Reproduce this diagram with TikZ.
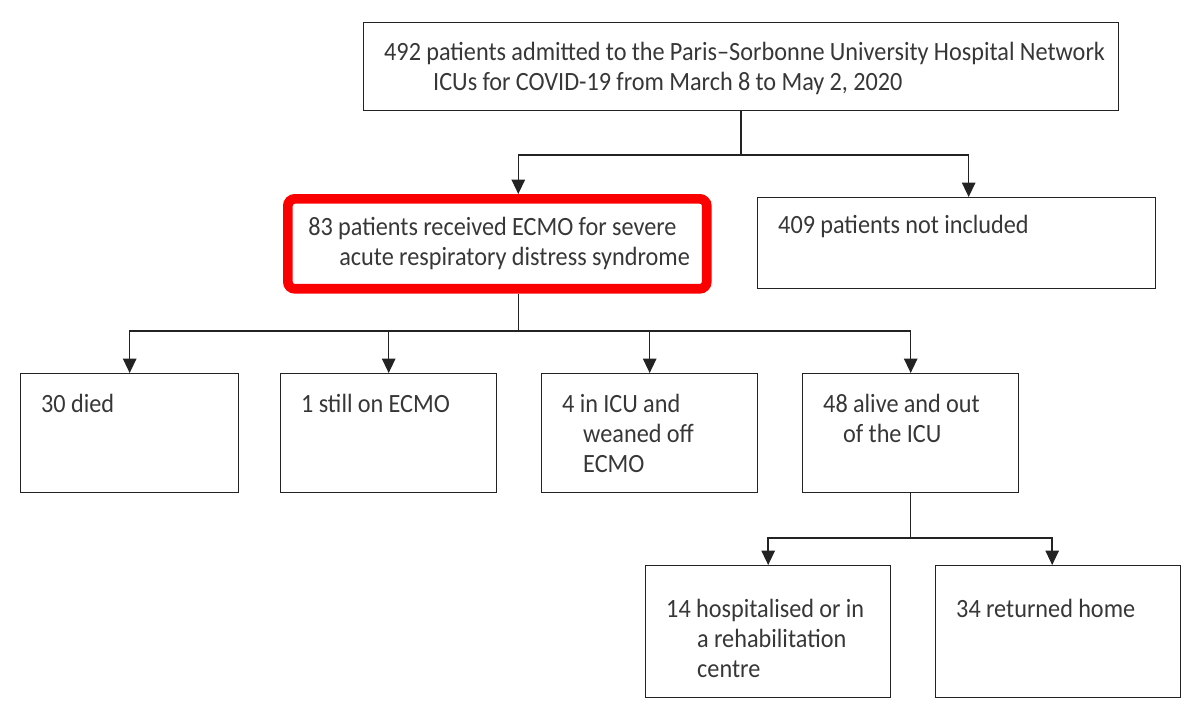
\documentclass[tikz,border=0pt]{standalone}
\usepackage{fontspec}
\setmainfont[FakeStretch=0.92]{Carlito}
\usetikzlibrary{
  arrows.meta,
  positioning
}
\definecolor{inkgray}{RGB}{55,55,55}
\definecolor{linegray}{RGB}{35,35,35}
\definecolor{flagred}{RGB}{250,0,0}
\tikzset{
  >={Triangle[length=2.9mm,width=2.7mm]},
  link/.style={draw=linegray,line width=0.8pt},
  flow/.style={->,link},
  box/.style={
    draw=linegray,
    line width=0.8pt,
    anchor=north west,
    align=left,
    inner xsep=0.41cm,
    inner ysep=0pt,
    text=inkgray,
    font=\fontsize{15pt}{17pt}\selectfont
  },
  flag box/.style={box,draw=flagred,line width=5.5pt,rounded corners=4pt},
  row two/.style={box,text width=3.50cm,text height=0.78cm,text depth=1.60cm},
  row three/.style={box,text width=4.08cm,text height=1.04cm,text depth=1.60cm}
}
\newcommand{\textline}[2][0pt]{\mbox{\hskip#1\relax\spaceskip=0.2em\relax #2}}

\begin{document}
\begin{tikzpicture}[x=0.02cm,y=-0.02cm]
  \useasboundingbox (0,0) rectangle (1193,711);

  \node[box,text width=14.28cm,text height=0.76cm,text depth=1.00cm] (admitted) at (363,22)
    {\textline{492 patients admitted to the Paris--Sorbonne University Hospital Network}\\
     \textline[0.98cm]{ICUs for COVID-19 from March 8 to May 2, 2020}};

  \node[flag box,text width=7.56cm,text height=0.74cm,text depth=1.06cm] (ecmo) at (283,194)
    {\textline{83 patients received ECMO for severe}\\
     \textline[0.62cm]{acute respiratory distress syndrome}};
  \node[box,text width=7.14cm,text height=0.72cm,text depth=1.10cm] (excluded) at (757,197)
    {\textline{409 patients not included}};

  \node[row two,text width=3.54cm] (died) at (20,373) {\textline{30 died}};
  \node[row two] (still) at (280,373) {\textline{1 still on ECMO}};
  \node[row two] (weaned) at (541,373)
    {\textline{4 in ICU and}\\\textline[0.42cm]{weaned off}\\\textline[0.42cm]{ECMO}};
  \node[row two] (alive) at (802,373)
    {\textline{48 alive and out}\\\textline[0.40cm]{of the ICU}};

  \node[row three] (rehab) at (645,565)
    {\textline{14 hospitalised or in}\\\textline[0.62cm]{a rehabilitation}\\\textline[0.62cm]{centre}};
  \node[row three] (home) at (935,565) {\textline{34 returned home}};

  % first split
  \coordinate (bus1) at (admitted.south |- 0,155);
  \draw[link] (admitted.south) -- (bus1);
  \draw[flow] (bus1) -| ([xshift=0.42cm]ecmo.north);
  \draw[flow] (bus1) -| ([xshift=0.24cm]excluded.north);

  % outcomes of ECMO
  \coordinate (bus2) at ([xshift=0.42cm]ecmo.south |- 0,331);
  \draw[link] ([xshift=0.42cm]ecmo.south) -- (bus2);
  \foreach \outcome in {died,still,weaned,alive}
    \draw[flow] (bus2) -| (\outcome.north);

  % after the ICU
  \coordinate (bus3) at (alive.south |- 0,538);
  \draw[link] (alive.south) -- (bus3);
  \draw[flow] (bus3) -| (rehab.north);
  \draw[flow] (bus3) -| ([xshift=-0.12cm]home.north);
\end{tikzpicture}
\end{document}
